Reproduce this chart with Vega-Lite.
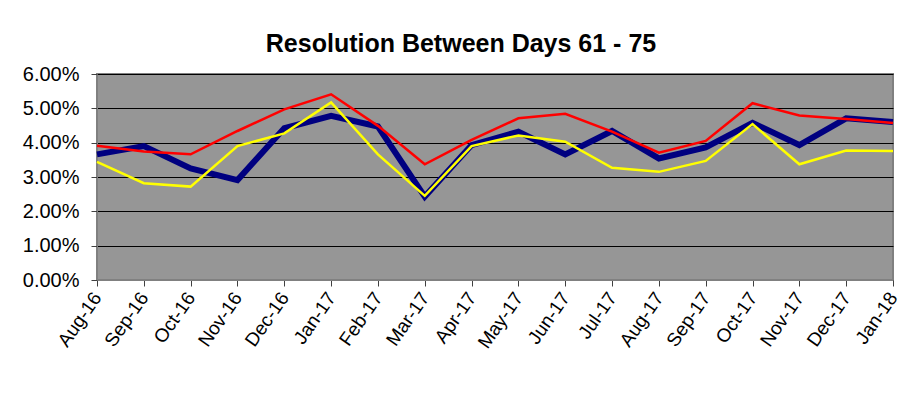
{
  "$schema": "https://vega.github.io/schema/vega-lite/v6.json",
  "autosize": "none",
  "width": 796,
  "height": 206,
  "padding": {"left": 97, "top": 74, "right": 25, "bottom": 123},
  "background": "white",
  "title": {
    "text": "Resolution Between Days 61 - 75",
    "font": "Liberation Sans",
    "fontSize": 25,
    "fontWeight": "bold",
    "color": "black",
    "anchor": "middle",
    "dx": -34,
    "offset": 7
  },
  "config": {
    "view": {"fill": "#969696", "stroke": "#808080", "strokeWidth": 2},
    "axis": {"labelFont": "Liberation Sans", "labelColor": "black", "domainColor": "#808080", "tickColor": "#404040"}
  },
  "data": {
    "values": [
      {"month": "Aug-16", "s": "Series1", "v": 0.0366}, {"month": "Sep-16", "s": "Series1", "v": 0.0390}, {"month": "Oct-16", "s": "Series1", "v": 0.0325},
      {"month": "Nov-16", "s": "Series1", "v": 0.0291}, {"month": "Dec-16", "s": "Series1", "v": 0.0442}, {"month": "Jan-17", "s": "Series1", "v": 0.0478},
      {"month": "Feb-17", "s": "Series1", "v": 0.0447}, {"month": "Mar-17", "s": "Series1", "v": 0.0243}, {"month": "Apr-17", "s": "Series1", "v": 0.0393},
      {"month": "May-17", "s": "Series1", "v": 0.0432}, {"month": "Jun-17", "s": "Series1", "v": 0.0366}, {"month": "Jul-17", "s": "Series1", "v": 0.0434},
      {"month": "Aug-17", "s": "Series1", "v": 0.0354}, {"month": "Sep-17", "s": "Series1", "v": 0.0386}, {"month": "Oct-17", "s": "Series1", "v": 0.0458},
      {"month": "Nov-17", "s": "Series1", "v": 0.0393}, {"month": "Dec-17", "s": "Series1", "v": 0.0471}, {"month": "Jan-18", "s": "Series1", "v": 0.0460},
      {"month": "Aug-16", "s": "Series2", "v": 0.0391}, {"month": "Sep-16", "s": "Series2", "v": 0.0374}, {"month": "Oct-16", "s": "Series2", "v": 0.0366},
      {"month": "Nov-16", "s": "Series2", "v": 0.0434}, {"month": "Dec-16", "s": "Series2", "v": 0.0497}, {"month": "Jan-17", "s": "Series2", "v": 0.0541},
      {"month": "Feb-17", "s": "Series2", "v": 0.0449}, {"month": "Mar-17", "s": "Series2", "v": 0.0337}, {"month": "Apr-17", "s": "Series2", "v": 0.0408},
      {"month": "May-17", "s": "Series2", "v": 0.0471}, {"month": "Jun-17", "s": "Series2", "v": 0.0484}, {"month": "Jul-17", "s": "Series2", "v": 0.0432},
      {"month": "Aug-17", "s": "Series2", "v": 0.0371}, {"month": "Sep-17", "s": "Series2", "v": 0.0405}, {"month": "Oct-17", "s": "Series2", "v": 0.0515},
      {"month": "Nov-17", "s": "Series2", "v": 0.0479}, {"month": "Dec-17", "s": "Series2", "v": 0.0469}, {"month": "Jan-18", "s": "Series2", "v": 0.0457},
      {"month": "Aug-16", "s": "Series3", "v": 0.0344}, {"month": "Sep-16", "s": "Series3", "v": 0.0282}, {"month": "Oct-16", "s": "Series3", "v": 0.0272},
      {"month": "Nov-16", "s": "Series3", "v": 0.0390}, {"month": "Dec-16", "s": "Series3", "v": 0.0427}, {"month": "Jan-17", "s": "Series3", "v": 0.0517},
      {"month": "Feb-17", "s": "Series3", "v": 0.0366}, {"month": "Mar-17", "s": "Series3", "v": 0.0245}, {"month": "Apr-17", "s": "Series3", "v": 0.0390},
      {"month": "May-17", "s": "Series3", "v": 0.0421}, {"month": "Jun-17", "s": "Series3", "v": 0.0403}, {"month": "Jul-17", "s": "Series3", "v": 0.0327},
      {"month": "Aug-17", "s": "Series3", "v": 0.0315}, {"month": "Sep-17", "s": "Series3", "v": 0.0347}, {"month": "Oct-17", "s": "Series3", "v": 0.0454},
      {"month": "Nov-17", "s": "Series3", "v": 0.0337}, {"month": "Dec-17", "s": "Series3", "v": 0.0377}, {"month": "Jan-18", "s": "Series3", "v": 0.0376}
    ]
  },
  "mark": {"type": "line", "strokeJoin": "miter", "strokeCap": "butt"},
  "encoding": {
    "x": {
      "field": "month", "type": "ordinal", "sort": null,
      "scale": {"type": "point", "padding": 0},
      "axis": {
        "title": null, "labelAngle": -55, "labelAlign": "right", "labelBaseline": "middle",
        "labelFontSize": 19, "labelPadding": 8, "tickSize": 6, "grid": false, "labelOverlap": false
      }
    },
    "y": {
      "field": "v", "type": "quantitative",
      "scale": {"domain": [0, 0.06], "nice": false},
      "axis": {
        "title": null, "format": ".2%", "values": [0, 0.01, 0.02, 0.03, 0.04, 0.05, 0.06],
        "labelFontSize": 20, "labelPadding": 12, "tickSize": 6,
        "grid": true, "gridColor": "black", "gridOpacity": 1, "gridWidth": 1
      }
    },
    "color": {
      "field": "s", "type": "nominal",
      "scale": {"domain": ["Series1", "Series2", "Series3"], "range": ["#000080", "#ff0000", "#ffff00"]},
      "legend": null
    },
    "strokeWidth": {
      "field": "s", "type": "nominal",
      "scale": {"type": "ordinal", "domain": ["Series1", "Series2", "Series3"], "range": [6, 2.5, 2.5]},
      "legend": null
    }
  }
}
